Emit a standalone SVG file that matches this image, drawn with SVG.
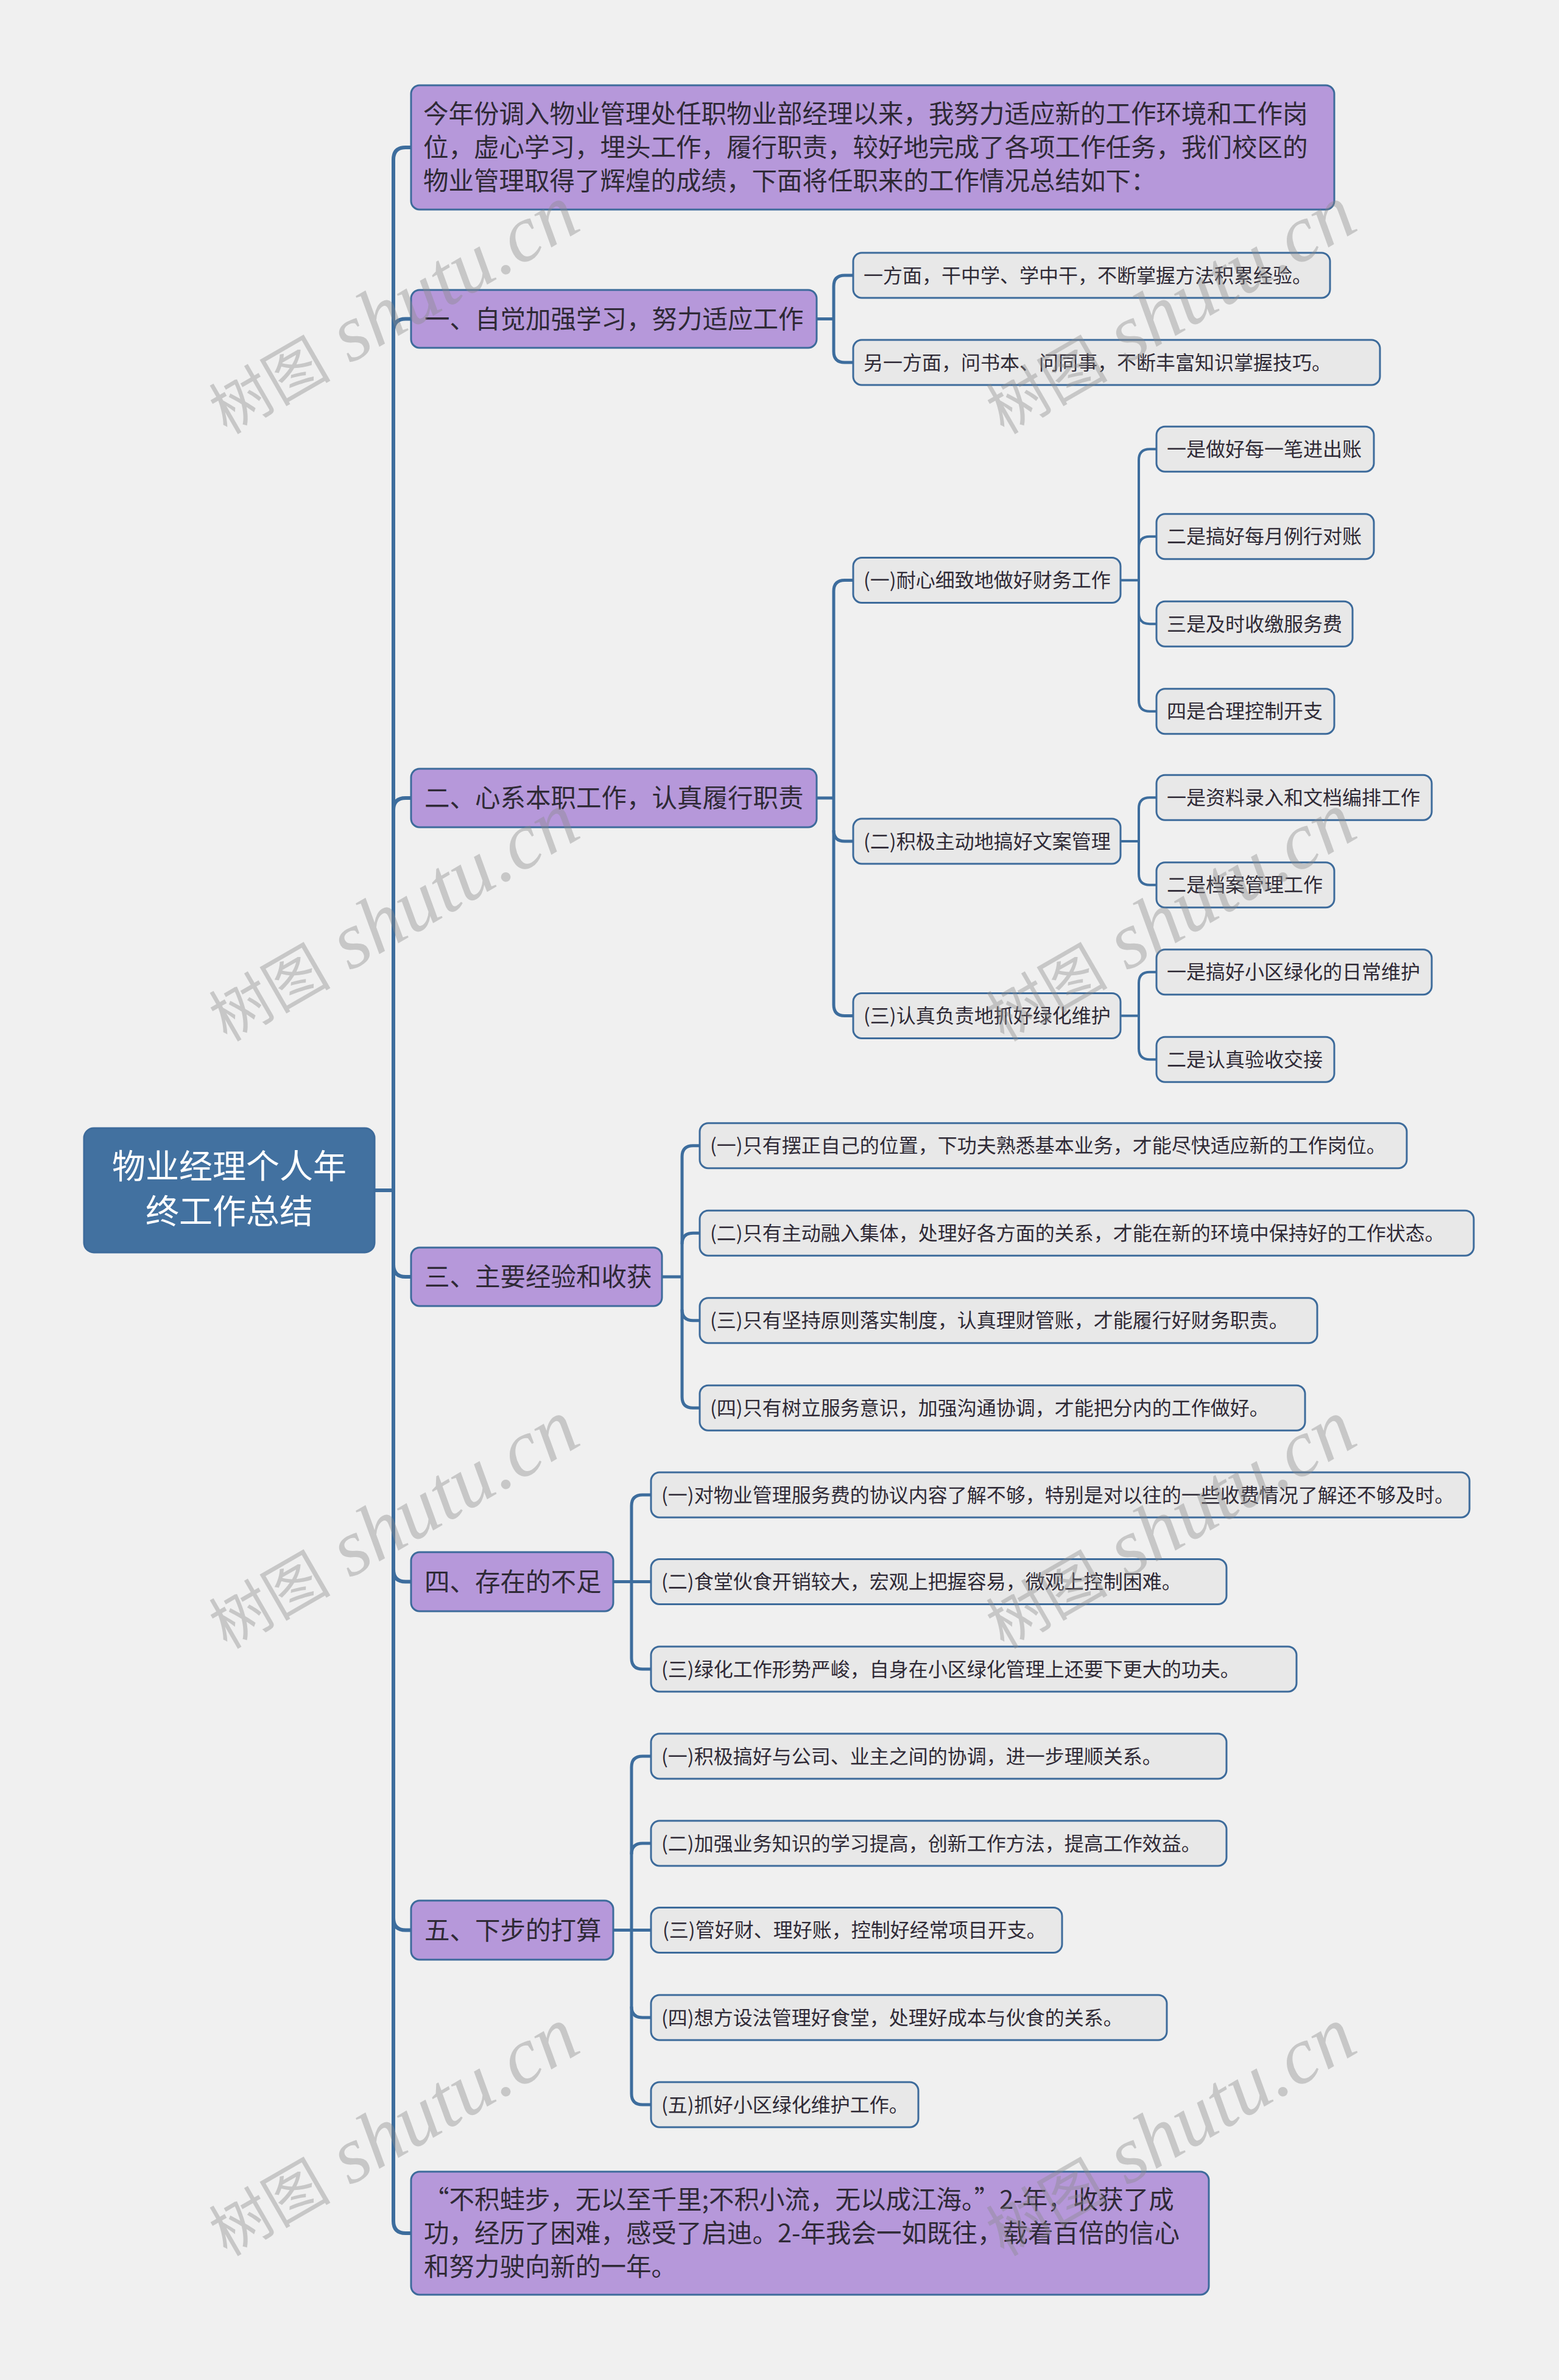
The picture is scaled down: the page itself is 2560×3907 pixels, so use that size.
<svg xmlns="http://www.w3.org/2000/svg" width="2560" height="3907" viewBox="0 0 2560 3907">
<style>
.p{fill:#b698da;stroke:#3d6b9b;stroke-width:3}
.g{fill:#e8e8e8;stroke:#3d6b9b;stroke-width:3}
.r{fill:#4271a0;stroke:#3d6b9b;stroke-width:3}
.tp{font-family:'Noto Sans CJK SC','Noto Sans',sans-serif;font-size:41.5px;fill:#2f2a36}
.tg{font-family:'Noto Sans CJK SC','Noto Sans',sans-serif;font-size:32px;fill:#2f2a36}
.tr{font-family:'Noto Sans CJK SC','Noto Sans',sans-serif;font-size:55px;fill:#ffffff;text-anchor:middle}
.c1{fill:none;stroke:#3d6d9d;stroke-width:6}
.c2{fill:none;stroke:#3d6d9d;stroke-width:5}
.c3{fill:none;stroke:#3d6d9d;stroke-width:4}
.wm{font-family:'Liberation Serif','Noto Sans CJK SC',serif;font-style:italic;font-size:132px;fill:#8a8a8a;fill-opacity:0.4;text-anchor:middle}
.wc{font-family:'Noto Sans CJK SC',sans-serif;font-style:normal;font-size:100px}
</style>
<rect width="2560" height="3907" fill="#f0f0f0"/>

<g id="connectors">
<path class="c1" d="M675,242 H666 Q646,242 646,262 V3646 Q646,3666 666,3666 H675"/>
<path class="c1" d="M615,1954 H646"/>
<path class="c1" d="M646,543.5 Q646,523.5 666,523.5 H675"/>
<path class="c1" d="M646,1330 Q646,1310 666,1310 H675"/>
<path class="c1" d="M646,2076 Q646,2096 666,2096 H675"/>
<path class="c1" d="M646,2576.5 Q646,2596.5 666,2596.5 H675"/>
<path class="c1" d="M646,3148.5 Q646,3168.5 666,3168.5 H675"/>

<path class="c2" d="M1341,523.5 H1369"/>
<path class="c2" d="M1401,452 H1387 Q1369,452 1369,470 V577 Q1369,595 1387,595 H1401"/>

<path class="c2" d="M1341,1310 H1369"/>
<path class="c2" d="M1401,952.5 H1387 Q1369,952.5 1369,970.5 V1649.5 Q1369,1667.5 1387,1667.5 H1401"/>
<path class="c2" d="M1369,1363 Q1369,1381 1387,1381 H1401"/>

<path class="c3" d="M1840,952.5 H1870"/>
<path class="c3" d="M1899,737.25 H1888 Q1870,737.25 1870,755.25 V1149.75 Q1870,1167.75 1888,1167.75 H1899"/>
<path class="c3" d="M1870,898.75 Q1870,880.75 1888,880.75 H1899"/>
<path class="c3" d="M1870,1006.25 Q1870,1024.25 1888,1024.25 H1899"/>

<path class="c3" d="M1840,1381 H1870"/>
<path class="c3" d="M1899,1309.25 H1888 Q1870,1309.25 1870,1327.25 V1434.75 Q1870,1452.75 1888,1452.75 H1899"/>

<path class="c3" d="M1840,1667.5 H1870"/>
<path class="c3" d="M1899,1595.75 H1888 Q1870,1595.75 1870,1613.75 V1721.25 Q1870,1739.25 1888,1739.25 H1899"/>

<path class="c2" d="M1087,2096 H1120"/>
<path class="c2" d="M1149,1880.75 H1138 Q1120,1880.75 1120,1898.75 V2293.25 Q1120,2311.25 1138,2311.25 H1149"/>
<path class="c2" d="M1120,2042.25 Q1120,2024.25 1138,2024.25 H1149"/>
<path class="c2" d="M1120,2149.75 Q1120,2167.75 1138,2167.75 H1149"/>

<path class="c2" d="M1007,2596.5 H1069"/>
<path class="c2" d="M1069,2454 H1055 Q1037,2454 1037,2472 V2722 Q1037,2740 1055,2740 H1069"/>

<path class="c2" d="M1007,3168.5 H1069"/>
<path class="c2" d="M1069,2883 H1055 Q1037,2883 1037,2901 V3437 Q1037,3455 1055,3455 H1069"/>
<path class="c2" d="M1037,3044 Q1037,3026 1055,3026 H1069"/>
<path class="c2" d="M1037,3294 Q1037,3312 1055,3312 H1069"/>
</g>

<g id="root">
<rect class="r" x="138" y="1852" width="477" height="204" rx="16"/>
<text class="tr" x="376.5" y="1934">物业经理个人年</text>
<text class="tr" x="376.5" y="2008">终工作总结</text>
</g>

<g id="intro">
<rect class="p" x="675" y="140" width="1516" height="204" rx="14"/>
<text class="tp" x="695" y="202">今年份调入物业管理处任职物业部经理以来，我努力适应新的工作环境和工作岗</text>
<text class="tp" x="695" y="257">位，虚心学习，埋头工作，履行职责，较好地完成了各项工作任务，我们校区的</text>
<text class="tp" x="695" y="312">物业管理取得了辉煌的成绩，下面将任职来的工作情况总结如下：</text>
</g>

<g id="n1">
<rect class="p" x="675" y="476" width="666" height="95" rx="14"/>
<text class="tp" x="697" y="538.5">一、自觉加强学习，努力适应工作</text>
</g>
<g id="n1a">
<rect class="g" x="1401" y="415" width="783" height="74" rx="14"/>
<text class="tg" x="1418" y="463.5">一方面，干中学、学中干，不断掌握方法积累经验。</text>
</g>
<g id="n1b">
<rect class="g" x="1401" y="558" width="865" height="74" rx="14"/>
<text class="tg" x="1418" y="606.5">另一方面，问书本、问同事，不断丰富知识掌握技巧。</text>
</g>

<g id="n2">
<rect class="p" x="675" y="1262" width="666" height="96" rx="14"/>
<text class="tp" x="697" y="1325">二、心系本职工作，认真履行职责</text>
</g>
<g id="n2a">
<rect class="g" x="1401" y="915.5" width="439" height="74" rx="14"/>
<text class="tg" x="1418" y="964">(一)耐心细致地做好财务工作</text>
</g>
<g id="n2a1">
<rect class="g" x="1899" y="700.25" width="357" height="74" rx="14"/>
<text class="tg" x="1916" y="748.75">一是做好每一笔进出账</text>
</g>
<g id="n2a2">
<rect class="g" x="1899" y="843.75" width="357" height="74" rx="14"/>
<text class="tg" x="1916" y="892.25">二是搞好每月例行对账</text>
</g>
<g id="n2a3">
<rect class="g" x="1899" y="987.25" width="322" height="74" rx="14"/>
<text class="tg" x="1916" y="1035.75">三是及时收缴服务费</text>
</g>
<g id="n2a4">
<rect class="g" x="1899" y="1130.75" width="292" height="74" rx="14"/>
<text class="tg" x="1916" y="1179.25">四是合理控制开支</text>
</g>
<g id="n2b">
<rect class="g" x="1401" y="1344" width="439" height="74" rx="14"/>
<text class="tg" x="1418" y="1392.5">(二)积极主动地搞好文案管理</text>
</g>
<g id="n2b1">
<rect class="g" x="1899" y="1272.25" width="452" height="74" rx="14"/>
<text class="tg" x="1916" y="1320.75">一是资料录入和文档编排工作</text>
</g>
<g id="n2b2">
<rect class="g" x="1899" y="1415.75" width="292" height="74" rx="14"/>
<text class="tg" x="1916" y="1464.25">二是档案管理工作</text>
</g>
<g id="n2c">
<rect class="g" x="1401" y="1630.5" width="439" height="74" rx="14"/>
<text class="tg" x="1418" y="1679">(三)认真负责地抓好绿化维护</text>
</g>
<g id="n2c1">
<rect class="g" x="1899" y="1558.75" width="452" height="74" rx="14"/>
<text class="tg" x="1916" y="1607.25">一是搞好小区绿化的日常维护</text>
</g>
<g id="n2c2">
<rect class="g" x="1899" y="1702.25" width="292" height="74" rx="14"/>
<text class="tg" x="1916" y="1750.75">二是认真验收交接</text>
</g>

<g id="n3">
<rect class="p" x="675" y="2048" width="412" height="96" rx="14"/>
<text class="tp" x="697" y="2111">三、主要经验和收获</text>
</g>
<g id="n3a">
<rect class="g" x="1149" y="1843.75" width="1161" height="74" rx="14"/>
<text class="tg" x="1166" y="1892.25">(一)只有摆正自己的位置，下功夫熟悉基本业务，才能尽快适应新的工作岗位。</text>
</g>
<g id="n3b">
<rect class="g" x="1149" y="1987.25" width="1271" height="74" rx="14"/>
<text class="tg" x="1166" y="2035.75">(二)只有主动融入集体，处理好各方面的关系，才能在新的环境中保持好的工作状态。</text>
</g>
<g id="n3c">
<rect class="g" x="1149" y="2130.75" width="1014" height="74" rx="14"/>
<text class="tg" x="1166" y="2179.25">(三)只有坚持原则落实制度，认真理财管账，才能履行好财务职责。</text>
</g>
<g id="n3d">
<rect class="g" x="1149" y="2274.25" width="994" height="74" rx="14"/>
<text class="tg" x="1166" y="2322.75">(四)只有树立服务意识，加强沟通协调，才能把分内的工作做好。</text>
</g>

<g id="n4">
<rect class="p" x="675" y="2548" width="332" height="97" rx="14"/>
<text class="tp" x="697" y="2611.5">四、存在的不足</text>
</g>
<g id="n4a">
<rect class="g" x="1069" y="2417" width="1344" height="74" rx="14"/>
<text class="tg" x="1086" y="2465.5">(一)对物业管理服务费的协议内容了解不够，特别是对以往的一些收费情况了解还不够及时。</text>
</g>
<g id="n4b">
<rect class="g" x="1069" y="2559.5" width="945" height="74" rx="14"/>
<text class="tg" x="1086" y="2608">(二)食堂伙食开销较大，宏观上把握容易，微观上控制困难。</text>
</g>
<g id="n4c">
<rect class="g" x="1069" y="2703" width="1060" height="74" rx="14"/>
<text class="tg" x="1086" y="2751.5">(三)绿化工作形势严峻，自身在小区绿化管理上还要下更大的功夫。</text>
</g>

<g id="n5">
<rect class="p" x="675" y="3120" width="332" height="97" rx="14"/>
<text class="tp" x="697" y="3183.5">五、下步的打算</text>
</g>
<g id="n5a">
<rect class="g" x="1069" y="2846" width="945" height="74" rx="14"/>
<text class="tg" x="1086" y="2894.5">(一)积极搞好与公司、业主之间的协调，进一步理顺关系。</text>
</g>
<g id="n5b">
<rect class="g" x="1069" y="2989" width="945" height="74" rx="14"/>
<text class="tg" x="1086" y="3037.5">(二)加强业务知识的学习提高，创新工作方法，提高工作效益。</text>
</g>
<g id="n5c">
<rect class="g" x="1069" y="3131.5" width="675" height="74" rx="14"/>
<text class="tg" x="1088" y="3180">(三)管好财、理好账，控制好经常项目开支。</text>
</g>
<g id="n5d">
<rect class="g" x="1069" y="3275" width="847" height="74" rx="14"/>
<text class="tg" x="1086" y="3323.5">(四)想方设法管理好食堂，处理好成本与伙食的关系。</text>
</g>
<g id="n5e">
<rect class="g" x="1069" y="3418" width="439" height="74" rx="14"/>
<text class="tg" x="1086" y="3466.5">(五)抓好小区绿化维护工作。</text>
</g>

<g id="n6">
<rect class="p" x="675" y="3565" width="1310" height="202" rx="14"/>
<text class="tp" x="696" y="3626">“不积蛙步，无以至千里;不积小流，无以成江海。”2-年，收获了成</text>
<text class="tp" x="696" y="3681">功，经历了困难，感受了启迪。2-年我会一如既往，载着百倍的信心</text>
<text class="tp" x="696" y="3736">和努力驶向新的一年。</text>
</g>

<g id="watermarks">
<text class="wm" x="646" y="550" transform="rotate(-30 646 511)"><tspan class="wc">树图</tspan> shutu.cn</text>
<text class="wm" x="1922" y="550" transform="rotate(-30 1922 511)"><tspan class="wc">树图</tspan> shutu.cn</text>
<text class="wm" x="646" y="1547" transform="rotate(-30 646 1508)"><tspan class="wc">树图</tspan> shutu.cn</text>
<text class="wm" x="1922" y="1547" transform="rotate(-30 1922 1508)"><tspan class="wc">树图</tspan> shutu.cn</text>
<text class="wm" x="646" y="2544" transform="rotate(-30 646 2505)"><tspan class="wc">树图</tspan> shutu.cn</text>
<text class="wm" x="1922" y="2544" transform="rotate(-30 1922 2505)"><tspan class="wc">树图</tspan> shutu.cn</text>
<text class="wm" x="646" y="3541" transform="rotate(-30 646 3502)"><tspan class="wc">树图</tspan> shutu.cn</text>
<text class="wm" x="1922" y="3541" transform="rotate(-30 1922 3502)"><tspan class="wc">树图</tspan> shutu.cn</text>
</g>
</svg>
